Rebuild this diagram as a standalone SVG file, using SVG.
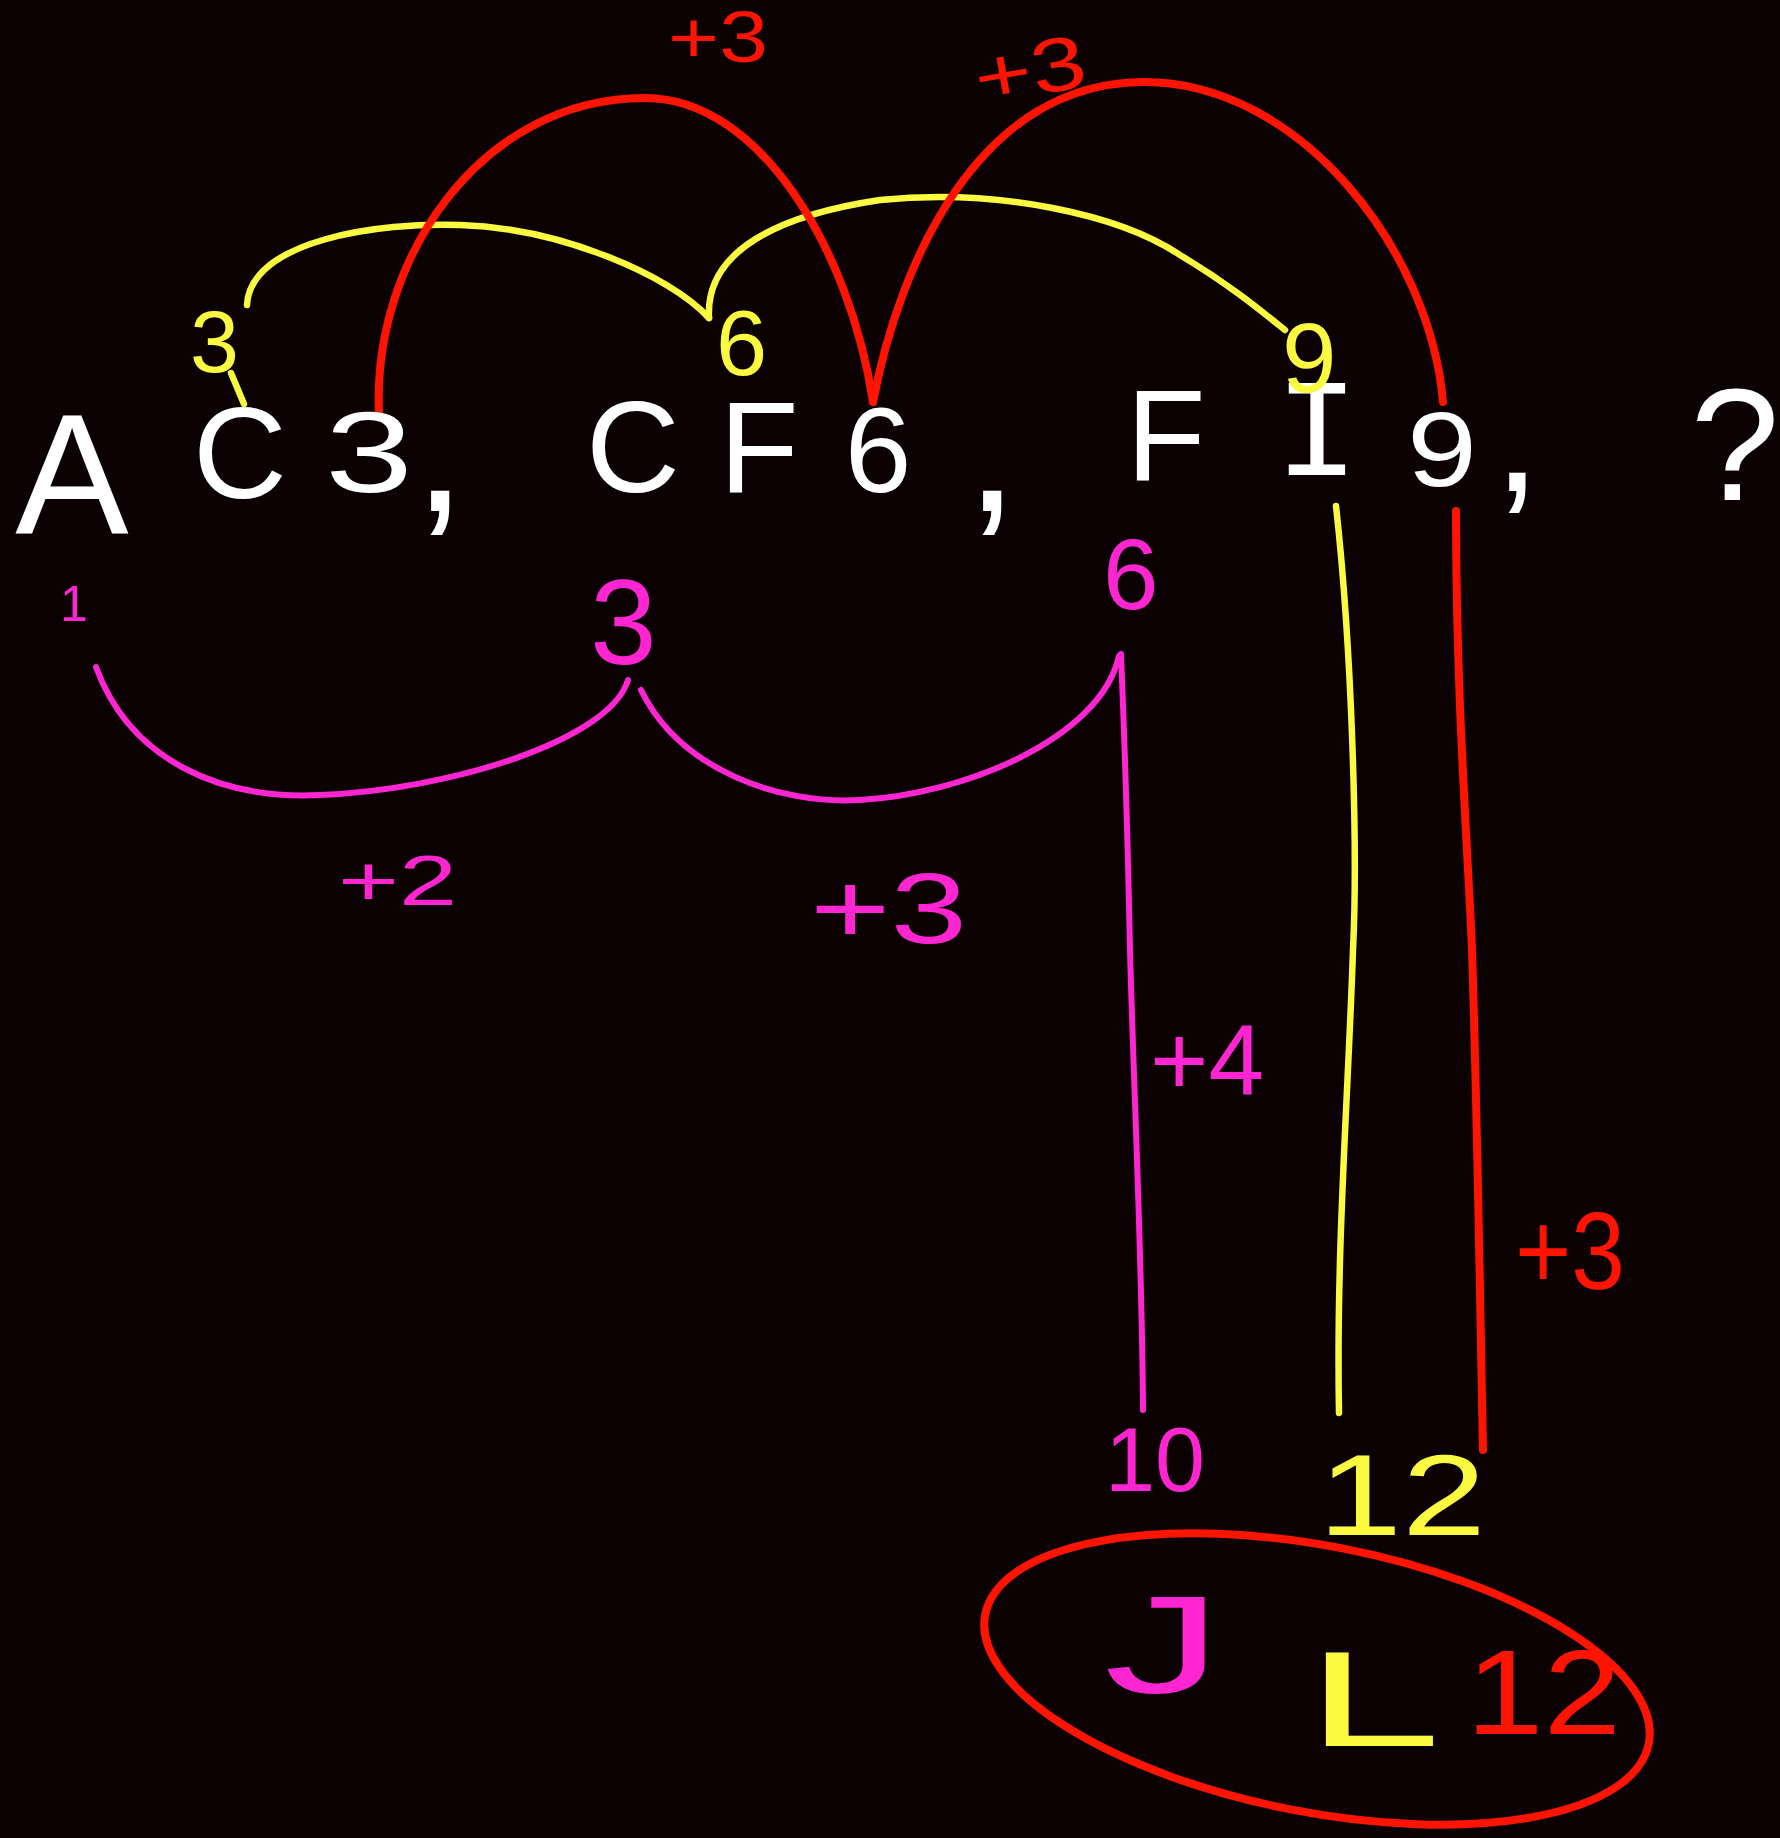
<svg xmlns="http://www.w3.org/2000/svg" width="1780" height="1838" viewBox="0 0 1780 1838">
<style>
.w{fill:#ffffff;font-family:"Liberation Sans",Arial,sans-serif;text-anchor:middle}
.y{fill:#fafa40;font-family:"Liberation Sans",Arial,sans-serif}
.r{fill:#ff1400;font-family:"Liberation Sans",Arial,sans-serif}
.m{fill:#ff26d2;font-family:"Liberation Sans",Arial,sans-serif}
.ly{fill:none;stroke:#fafa40;stroke-width:6.5;stroke-linecap:round;stroke-linejoin:round}
.lr{fill:none;stroke:#ff1400;stroke-width:8;stroke-linecap:round;stroke-linejoin:round}
.lm{fill:none;stroke:#ff26d2;stroke-width:6;stroke-linecap:round;stroke-linejoin:round}
</style>
<rect width="1780" height="1838" fill="#0b0103"/>
<g id="connectors">
<path class="ly" d="M231 373 L244 404"/>
<path class="ly" d="M247 305 C250 240 380 222 460 225 C560 228 670 275 709 318"/>
<path class="ly" d="M709 318 C705 250 780 215 880 200 C1000 188 1120 215 1180 255 C1230 285 1260 310 1285 330"/>
<path class="ly" d="M1336 506 C1352 650 1358 850 1353 950 C1348 1100 1336 1250 1339 1413"/>
<path class="lr" d="M379 413 C372 260 480 98 645 98 C760 98 850 250 873 402"/>
<path class="lr" d="M873 402 C900 260 980 82 1144 82 C1300 82 1430 250 1443 402"/>
<path class="lr" d="M1456 511 C1456 700 1468 850 1472 950 C1477 1100 1480 1300 1483 1450"/>
<path class="lm" d="M96 667 C130 760 220 800 320 795 C450 790 610 740 628 680"/>
<path class="lm" d="M641 690 C680 770 780 805 860 800 C960 795 1100 740 1119 656"/>
<path class="lm" d="M1121 654 C1125 750 1128 850 1130 950 C1134 1100 1142 1250 1143 1410"/>
<ellipse class="lr" cx="1317" cy="1679" rx="338" ry="133" transform="rotate(11 1317 1679)"/>
</g>
<g id="node-A"><text class="w" x="72" y="533" font-size="170">A</text></g>
<g id="node-C3">
<text class="w" x="240" y="498" font-size="130">C</text>
<text class="w" x="369" y="492" font-size="115" textLength="88" lengthAdjust="spacingAndGlyphs">3</text>
<text class="w" x="440" y="511" font-size="190">,</text>
</g>
<g id="node-CF6">
<text class="w" x="633" y="492" font-size="130">C</text>
<text class="w" x="759" y="492" font-size="130">F</text>
<text class="w" x="878" y="492" font-size="120">6</text>
<text class="w" x="992" y="511" font-size="190">,</text>
</g>
<g id="node-FI9">
<text class="w" x="1166" y="480" font-size="130">F</text>
<text class="w" x="1317" y="475" font-size="140" style="font-family:'Liberation Mono',monospace">I</text>
<text class="w" x="1442" y="486" font-size="105" textLength="70" lengthAdjust="spacingAndGlyphs">9</text>
<text class="w" x="1517" y="491" font-size="170">,</text>
</g>
<g id="node-q"><text class="w" x="1735" y="500" font-size="160">?</text></g>
<g id="labels-yellow">
<text class="y" x="190" y="372" font-size="88">3</text>
<text class="y" x="716" y="375" font-size="92">6</text>
<text class="y" x="1282" y="392" font-size="98">9</text>
<text class="y" x="1318" y="1535" font-size="115" textLength="168" lengthAdjust="spacingAndGlyphs">12</text>
</g>
<g id="labels-red">
<text class="r" x="668" y="62" font-size="72" textLength="100" lengthAdjust="spacingAndGlyphs">+3</text>
<text class="r" x="974" y="96" font-size="76" textLength="112" lengthAdjust="spacingAndGlyphs" transform="rotate(-10 1030 70)">+3</text>
<text class="r" x="1515" y="1289" font-size="110" textLength="110" lengthAdjust="spacingAndGlyphs">+3</text>
</g>
<g id="labels-magenta">
<text class="m" x="60" y="621" font-size="50">1</text>
<text class="m" x="590" y="664" font-size="120">3</text>
<text class="m" x="1103" y="609" font-size="100">6</text>
<text class="m" x="338" y="905" font-size="70" textLength="119" lengthAdjust="spacingAndGlyphs">+2</text>
<text class="m" x="810" y="943" font-size="100" textLength="157" lengthAdjust="spacingAndGlyphs">+3</text>
<text class="m" x="1150" y="1095" font-size="100">+4</text>
<text class="m" x="1105" y="1491" font-size="90">10</text>
</g>
<g id="node-JL12">
<text class="m" x="1104" y="1693" font-size="140" textLength="118" lengthAdjust="spacingAndGlyphs">J</text>
<text class="y" x="1306" y="1746" font-size="135" textLength="135" lengthAdjust="spacingAndGlyphs">L</text>
<text class="r" x="1466" y="1734" font-size="120" textLength="155" lengthAdjust="spacingAndGlyphs">12</text>
</g>
</svg>
